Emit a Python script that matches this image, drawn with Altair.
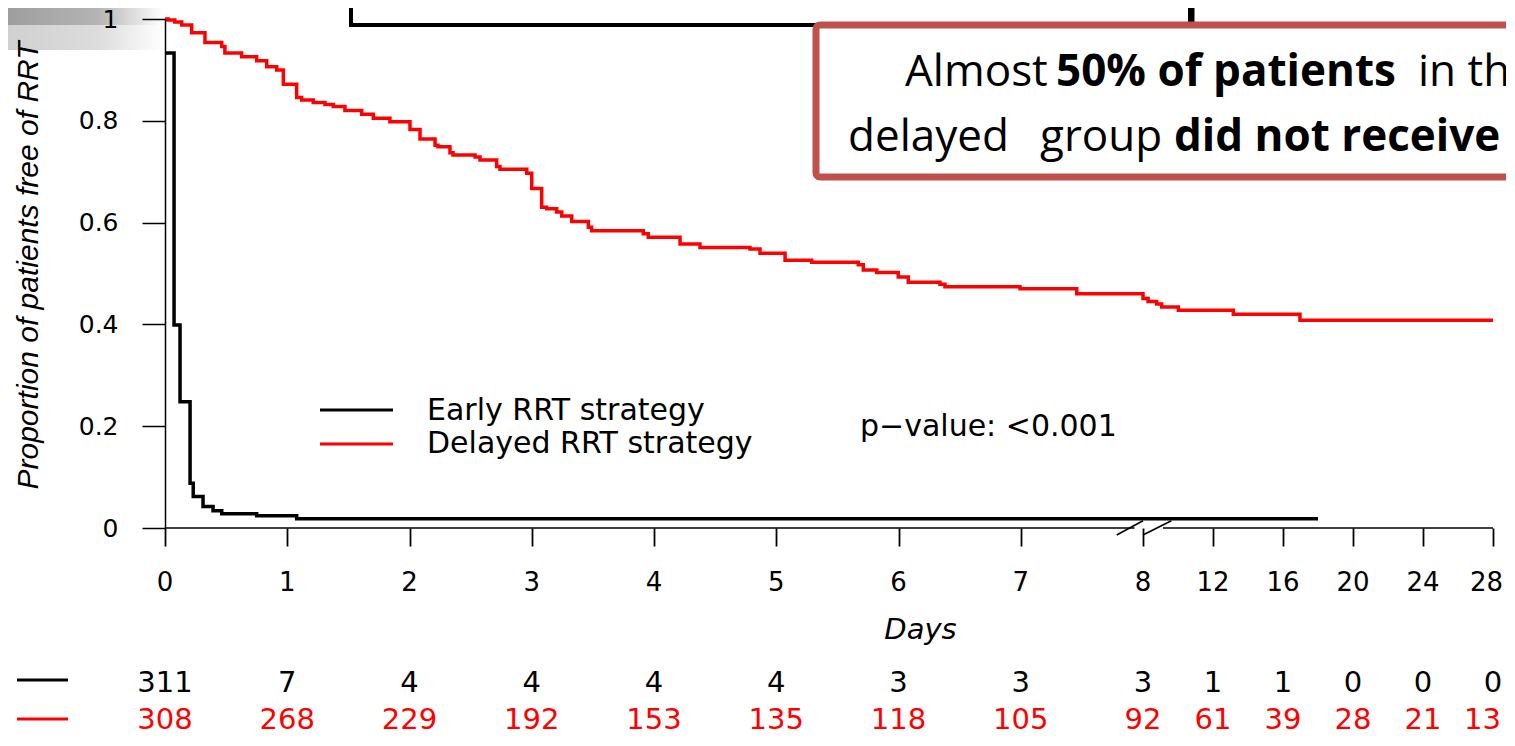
import altair as alt
import pandas as pd

# ---------------- data ----------------
# Delayed RRT strategy (red) Kaplan-Meier steps
red_days = [0.000, 0.025, 0.080, 0.137, 0.218, 0.327, 0.464, 0.490, 0.627, 0.750,
            0.832, 0.914, 0.968, 1.077, 1.118, 1.213, 1.309, 1.377, 1.472, 1.609,
            1.704, 1.840, 2.004, 2.086, 2.209, 2.233, 2.331, 2.356, 2.536, 2.577,
            2.713, 2.740, 2.959, 3.000, 3.081, 3.122, 3.204, 3.245, 3.327, 3.463,
            3.490, 3.912, 3.953, 4.213, 4.376, 4.785, 4.867, 5.072, 5.290, 5.671,
            5.712, 5.822, 5.998, 6.080, 6.339, 6.380, 6.994, 7.458, 8.000, 8.290,
            8.780, 9.070, 10.02, 13.16, 16.97, 28.0]
red_surv = [1.000, 0.998, 0.994, 0.988, 0.973, 0.954, 0.946, 0.933, 0.926, 0.918,
            0.906, 0.900, 0.872, 0.846, 0.841, 0.836, 0.832, 0.828, 0.820, 0.813,
            0.805, 0.798, 0.783, 0.764, 0.752, 0.749, 0.737, 0.733, 0.729, 0.723,
            0.710, 0.705, 0.697, 0.667, 0.630, 0.627, 0.621, 0.613, 0.602, 0.591,
            0.584, 0.578, 0.571, 0.558, 0.551, 0.548, 0.540, 0.526, 0.522, 0.517,
            0.507, 0.502, 0.493, 0.483, 0.479, 0.474, 0.470, 0.460, 0.451, 0.445,
            0.440, 0.434, 0.428, 0.420, 0.408, 0.408]

# Early RRT strategy (black) Kaplan-Meier steps
black_days = [0.000, 0.074, 0.123, 0.205, 0.231, 0.311, 0.393, 0.464, 0.750, 1.077, 18.0]
black_surv = [0.933, 0.399, 0.248, 0.088, 0.062, 0.042, 0.034, 0.028, 0.024, 0.018, 0.018]

# Number at risk table (also the x tick positions)
risk_days = [0, 1, 2, 3, 4, 5, 6, 7, 8, 12, 16, 20, 24, 28]
risk_early = [311, 7, 4, 4, 4, 4, 3, 3, 3, 1, 1, 0, 0, 0]
risk_delayed = [308, 268, 229, 192, 153, 135, 118, 105, 92, 61, 39, 28, 21, 13]

y_ticks = [0, 0.2, 0.4, 0.6, 0.8, 1.0]

# broken axis: 0-8 days wide, 8-28 days compressed
x_domain = [0, 8, 28]
x_range = [0, 978, 1328]

W, H = 1328, 509
AX_FONT = "DejaVu Sans"

xs = alt.Scale(domain=x_domain, range=x_range, nice=False, zero=False)
ys = alt.Scale(domain=[0, 1], nice=False, zero=False)

red_df = pd.DataFrame({"day": red_days, "surv": red_surv})
black_df = pd.DataFrame({"day": black_days, "surv": black_surv})
risk_df = pd.DataFrame({"day": risk_days, "early": risk_early, "delayed": risk_delayed})
one = pd.DataFrame({"a": [0]})

# axes carrier (invisible points) --------------------------------
axes = alt.Chart(pd.DataFrame({"day": [0, 28], "surv": [0, 1]})).mark_point(opacity=0).encode(
    x=alt.X("day:Q", scale=xs, axis=alt.Axis(
        values=risk_days, domain=False, grid=False, tickSize=18, tickWidth=1.8,
        tickColor="black", labels=False, zindex=1,
        title="Days", titleFont=AX_FONT, titleFontSize=29, titleFontStyle="italic",
        titleFontWeight="normal", titleColor="black", titleX=755, titleY=110,
        titleAlign="center", titleBaseline="alphabetic")),
    y=alt.Y("surv:Q", scale=ys, axis=alt.Axis(
        values=y_ticks, format="~g", domain=True, domainColor="black", domainWidth=1.5,
        grid=False, tickSize=23, tickWidth=1.5, tickColor="black", zindex=1,
        labelFont=AX_FONT, labelFontSize=25, labelColor="black", labelPadding=24,
        labelFlush=False, labelOverlap=False,
        title="Proportion of patients free of RRT", titleFont="Liberation Sans",
        titleFontSize=30, titleFontStyle="italic", titleFontWeight="normal",
        titleColor="black", titleAngle=270, titleX=-137, titleY=246,
        titleAlign="center", titleBaseline="middle")),
)

# x tick labels (drawn as text so the last one stays inside the page)
xlab_main = alt.Chart(risk_df).transform_filter("datum.day < 28").mark_text(
    font=AX_FONT, fontSize=26, color="black", baseline="alphabetic").encode(
    x=alt.X("day:Q", scale=xs), y=alt.value(572), text="day:Q")
xlab_last = alt.Chart(risk_df).transform_filter("datum.day >= 28").mark_text(
    font=AX_FONT, fontSize=26, color="black", baseline="alphabetic",
    align="right", dx=10).encode(
    x=alt.X("day:Q", scale=xs), y=alt.value(572), text="day:Q")

# x axis line with break ----------------------------------------
axis_segments = pd.DataFrame({"x1": [0, 9.14], "x2": [7.93, 28], "y": [0, 0]})
axis_line = alt.Chart(axis_segments).mark_rule(color="black", strokeWidth=1.5).encode(
    x=alt.X("x1:Q", scale=xs), x2="x2:Q", y=alt.Y("y:Q", scale=ys))

slashes = pd.DataFrame({"x1": [7.785, 8.0], "x2": [8.0, 9.62],
                        "y1": [-0.0138, -0.0138], "y2": [0.0143, 0.0143]})
slash = alt.Chart(slashes).mark_rule(color="black", strokeWidth=1.5).encode(
    x=alt.X("x1:Q", scale=xs), x2="x2:Q",
    y=alt.Y("y1:Q", scale=ys), y2="y2:Q")

# KM curves --------------------------------------------------------
red_line = alt.Chart(red_df).mark_line(color="#ff0000", strokeWidth=3.5,
                                      interpolate="step-after").encode(
    x=alt.X("day:Q", scale=xs), y=alt.Y("surv:Q", scale=ys), order="day:Q")
black_line = alt.Chart(black_df).mark_line(color="black", strokeWidth=3.5,
                                          interpolate="step-after").encode(
    x=alt.X("day:Q", scale=xs), y=alt.Y("surv:Q", scale=ys), order="day:Q")

# in-plot legend & p-value ----------------------------------------
leg_black = alt.Chart(one).mark_rule(color="black", strokeWidth=3).encode(
    x=alt.value(155), x2=alt.value(228), y=alt.value(391))
leg_red = alt.Chart(one).mark_rule(color="#ff0000", strokeWidth=3).encode(
    x=alt.value(155), x2=alt.value(228), y=alt.value(425))
leg_t1 = alt.Chart(one).mark_text(text="Early RRT strategy", font=AX_FONT, fontSize=30,
                                  align="left", baseline="alphabetic", color="black").encode(
    x=alt.value(262), y=alt.value(401))
leg_t2 = alt.Chart(one).mark_text(text="Delayed RRT strategy", font=AX_FONT, fontSize=30,
                                  align="left", baseline="alphabetic", color="black").encode(
    x=alt.value(262), y=alt.value(434))
pval = alt.Chart(one).mark_text(text="p\u2212value: <0.001", font=AX_FONT, fontSize=30,
                                align="left", baseline="alphabetic", color="black").encode(
    x=alt.value(695), y=alt.value(417))

# number at risk table --------------------------------------------
risk_black = alt.Chart(risk_df).mark_text(font=AX_FONT, fontSize=29, color="black",
                                          baseline="alphabetic").encode(
    x=alt.X("day:Q", scale=xs), y=alt.value(673), text="early:Q")
risk_red_main = alt.Chart(risk_df).transform_filter("datum.day < 28").mark_text(
    font=AX_FONT, fontSize=29, color="#ff0000", baseline="alphabetic").encode(
    x=alt.X("day:Q", scale=xs), y=alt.value(710), text="delayed:Q")
risk_red_last = alt.Chart(risk_df).transform_filter("datum.day >= 28").mark_text(
    font=AX_FONT, fontSize=29, color="#ff0000", baseline="alphabetic",
    align="right", dx=8).encode(
    x=alt.X("day:Q", scale=xs), y=alt.value(710), text="delayed:Q")
dash_black = alt.Chart(one).mark_rule(color="black", strokeWidth=3).encode(
    x=alt.value(-148), x2=alt.value(-97), y=alt.value(661))
dash_red = alt.Chart(one).mark_rule(color="#ff0000", strokeWidth=3).encode(
    x=alt.value(-148), x2=alt.value(-97), y=alt.value(700))

# slide decorations (top) -----------------------------------------
shade1 = alt.Chart(one).mark_rect(
    color=alt.Gradient(gradient="linear", x1=0, x2=1, y1=0, y2=0,
                       stops=[alt.GradientStop(color="#9c9c9c", offset=0),
                              alt.GradientStop(color="#b4b4b4", offset=0.6),
                              alt.GradientStop(color="#ffffff", offset=1)])).encode(
    x=alt.value(-165), x2=alt.value(-2), y=alt.value(-11), y2=alt.value(6))
shade2 = alt.Chart(one).mark_rect(
    color=alt.Gradient(gradient="linear", x1=0, x2=1, y1=0, y2=0,
                       stops=[alt.GradientStop(color="#cfcfcf", offset=0),
                              alt.GradientStop(color="#dcdcdc", offset=0.6),
                              alt.GradientStop(color="#ffffff", offset=1)])).encode(
    x=alt.value(-165), x2=alt.value(-2), y=alt.value(6), y2=alt.value(31))

box_l = alt.Chart(one).mark_rule(color="black", strokeWidth=4).encode(
    x=alt.value(186), y=alt.value(-11), y2=alt.value(8))
box_b = alt.Chart(one).mark_rule(color="black", strokeWidth=4).encode(
    x=alt.value(184), x2=alt.value(1027), y=alt.value(6))
box_r = alt.Chart(one).mark_rule(color="black", strokeWidth=4).encode(
    x=alt.value(1025), y=alt.value(-11), y2=alt.value(8))
box2_l = alt.Chart(one).mark_rule(color="black", strokeWidth=3).encode(
    x=alt.value(1028), y=alt.value(-11), y2=alt.value(5))

callout = alt.Chart(one).mark_rect(fill="white", stroke="#c0504d", strokeWidth=7,
                                   cornerRadius=4).encode(
    x=alt.value(651), x2=alt.value(1400), y=alt.value(6), y2=alt.value(158))

CF = "Open Sans"
CS = 44
c1a = alt.Chart(one).mark_text(text="Almost", font=CF, fontSize=CS, align="left",
                               baseline="alphabetic", color="black").encode(
    x=alt.value(740), y=alt.value(67))
c1b = alt.Chart(one).mark_text(text="50% of patients", font=CF, fontSize=CS, fontWeight="bold",
                               align="left", baseline="alphabetic", color="black").encode(
    x=alt.value(891), y=alt.value(67))
c1c = alt.Chart(one).mark_text(text="in the", font=CF, fontSize=CS, align="left",
                               baseline="alphabetic", color="black").encode(
    x=alt.value(1253), y=alt.value(67))
c2a = alt.Chart(one).mark_text(text="delayed", font=CF, fontSize=CS, align="left",
                               baseline="alphabetic", color="black").encode(
    x=alt.value(683), y=alt.value(132))
c2b = alt.Chart(one).mark_text(text="group", font=CF, fontSize=CS, align="left",
                               baseline="alphabetic", color="black").encode(
    x=alt.value(875), y=alt.value(132))
c2c = alt.Chart(one).mark_text(text="did not receive", font=CF, fontSize=CS, fontWeight="bold",
                               align="left", baseline="alphabetic", color="black").encode(
    x=alt.value(1009), y=alt.value(132))

chart = alt.layer(
    shade1, shade2, axes, xlab_main, xlab_last, axis_line, slash, black_line, red_line,
    leg_black, leg_red, leg_t1, leg_t2, pval,
    risk_black, risk_red_main, risk_red_last, dash_black, dash_red,
    box_l, box_b, box_r, box2_l, callout, c1a, c1b, c1c, c2a, c2b, c2c,
).properties(
    width=W, height=H,
    autosize=alt.AutoSizeParams(type="none"),
    padding={"left": 157, "top": 11, "right": 13, "bottom": 209},
    background="white",
).configure_view(stroke=None)

chart.save("out.html", embed_options={"renderer": "svg", "actions": False})
